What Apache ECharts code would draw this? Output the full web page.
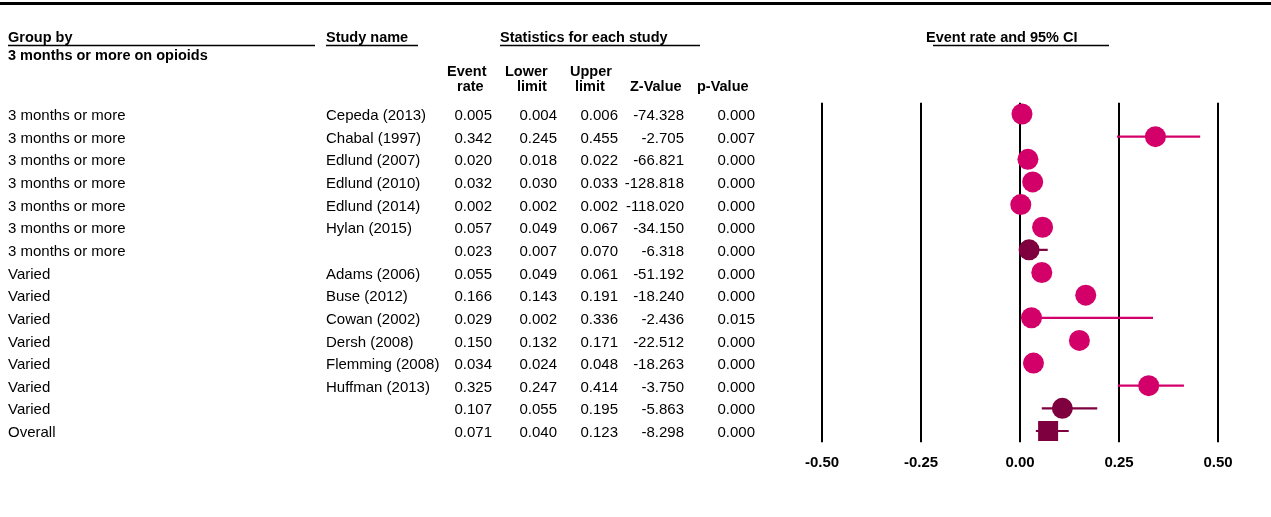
<!DOCTYPE html>
<html>
<head>
<meta charset="utf-8">
<script src="https://cdn.jsdelivr.net/npm/echarts@6/dist/echarts.min.js"></script>
<style>
  html, body { margin: 0; padding: 0; background: #fff; }
  #chart { width: 1271px; height: 517px; }
</style>
</head>
<body>
<div id="chart"></div>
<script>
// Forest plot: event rate with 95% CI, grouped by opioid duration
const groups = [
  '3 months or more', '3 months or more', '3 months or more', '3 months or more',
  '3 months or more', '3 months or more', '3 months or more',
  'Varied', 'Varied', 'Varied', 'Varied', 'Varied', 'Varied', 'Varied',
  'Overall'
];
const studies = [
  'Cepeda (2013)', 'Chabal (1997)', 'Edlund (2007)', 'Edlund (2010)',
  'Edlund (2014)', 'Hylan (2015)', '',
  'Adams (2006)', 'Buse (2012)', 'Cowan (2002)', 'Dersh (2008)',
  'Flemming (2008)', 'Huffman (2013)', '',
  ''
];
// 'study' = single study, 'subtotal' = group pooled, 'overall' = all pooled
const rowKind = [
  'study', 'study', 'study', 'study', 'study', 'study', 'subtotal',
  'study', 'study', 'study', 'study', 'study', 'study', 'subtotal',
  'overall'
];
const eventRate = [0.005, 0.342, 0.020, 0.032, 0.002, 0.057, 0.023,
                   0.055, 0.166, 0.029, 0.150, 0.034, 0.325, 0.107, 0.071];
const lowerLimit = [0.004, 0.245, 0.018, 0.030, 0.002, 0.049, 0.007,
                    0.049, 0.143, 0.002, 0.132, 0.024, 0.247, 0.055, 0.040];
const upperLimit = [0.006, 0.455, 0.022, 0.033, 0.002, 0.067, 0.070,
                    0.061, 0.191, 0.336, 0.171, 0.048, 0.414, 0.195, 0.123];
const zValue = [-74.328, -2.705, -66.821, -128.818, -118.020, -34.150, -6.318,
                -51.192, -18.240, -2.436, -22.512, -18.263, -3.750, -5.863, -8.298];
const pValue = [0.000, 0.007, 0.000, 0.000, 0.000, 0.000, 0.000,
                0.000, 0.000, 0.015, 0.000, 0.000, 0.000, 0.000, 0.000];
const axisTicks = [-0.5, 0.25];   // [min, interval]

const rowIdx = groups.map((_, i) => String(i));
const PINK = '#d4006a';
const DARK = '#7e003e';
const FONT = '"Liberation Sans", Arial, sans-serif';
const TXT = '15px ' + FONT;
const BOLD = 'bold 14.5px ' + FONT;

const kindColor = k => (k === 'study' ? PINK : DARK);

const chart = echarts.init(document.getElementById('chart'), null, { renderer: 'canvas' });

// column layout of the statistics table (pixel x on the table axis)
const cols = [
  { get: i => groups[i], x: 8, align: 'left' },
  { get: i => studies[i], x: 326, align: 'left' },
  { get: i => eventRate[i].toFixed(3), x: 492, align: 'right' },
  { get: i => lowerLimit[i].toFixed(3), x: 557, align: 'right' },
  { get: i => upperLimit[i].toFixed(3), x: 618, align: 'right' },
  { get: i => zValue[i].toFixed(3), x: 684, align: 'right' },
  { get: i => pValue[i].toFixed(3), x: 755, align: 'right' }
];

function txt(text, x, y, font, align) {
  return {
    type: 'text',
    style: {
      text: text, x: x, y: y, font: font, fill: '#000',
      align: align || 'left', textAlign: align || 'left',
      verticalAlign: 'middle', textVerticalAlign: 'middle'
    }
  };
}
function hline(x1, x2, y, w) {
  return { type: 'line', shape: { x1: x1, y1: y, x2: x2, y2: y },
           style: { stroke: '#000', lineWidth: w } };
}

const TOP = 102.7, HEIGHT = 339.6;
const ROW_TEXT_SHIFT = 2;   // table text sits slightly below the marker centre line

chart.setOption({
  animation: false,
  backgroundColor: '#fff',
  grid: [
    { left: 0, right: 0, top: TOP, height: HEIGHT },
    { left: 822, width: 396, top: TOP, height: HEIGHT }
  ],
  xAxis: [
    { gridIndex: 0, type: 'value', min: 0, max: 1271, show: false },
    {
      gridIndex: 1, type: 'value', min: axisTicks[0], max: -axisTicks[0],
      interval: axisTicks[1],
      axisLine: { show: false }, axisTick: { show: false },
      splitLine: { show: true, lineStyle: { color: '#000', width: 2 } },
      axisLabel: {
        margin: 13, color: '#000', fontFamily: FONT, fontWeight: 'bold', fontSize: 15,
        formatter: v => v.toFixed(2)
      }
    }
  ],
  yAxis: [
    { gridIndex: 0, type: 'category', data: rowIdx, inverse: true, show: false },
    { gridIndex: 1, type: 'category', data: rowIdx, inverse: true, show: false }
  ],
  graphic: [
    { type: 'rect', shape: { x: 0, y: 2, width: 1271, height: 3 }, style: { fill: '#000' } },
    txt('Group by', 8, 38, BOLD),
    hline(8, 315, 45.5, 1.5),
    txt('3 months or more on opioids', 8, 56, BOLD),
    txt('Study name', 326, 38, BOLD),
    hline(326, 418, 45.5, 1.5),
    txt('Statistics for each study', 500, 38, BOLD),
    hline(500, 700, 45.5, 1.5),
    txt('Event rate and 95% CI', 926, 38, BOLD),
    hline(933, 1109, 45.5, 1.5),
    txt('Event', 447, 72, BOLD),
    txt('rate', 457, 87, BOLD),
    txt('Lower', 505, 72, BOLD),
    txt('limit', 517, 87, BOLD),
    txt('Upper', 570, 72, BOLD),
    txt('limit', 575, 87, BOLD),
    txt('Z-Value', 630, 87, BOLD),
    txt('p-Value', 697, 87, BOLD)
  ],
  series: [
    {
      // statistics table, one row per category
      type: 'custom',
      xAxisIndex: 0, yAxisIndex: 0,
      silent: true,
      data: rowIdx.map((_, i) => [0, i]),
      renderItem: function (params, api) {
        const i = api.value(1);
        const y = api.coord([0, i])[1] + ROW_TEXT_SHIFT;
        return {
          type: 'group',
          children: cols.map(c => txt(c.get(i), api.coord([c.x, i])[0], y, TXT, c.align))
        };
      }
    },
    {
      // confidence interval whiskers
      type: 'custom',
      xAxisIndex: 1, yAxisIndex: 1,
      silent: true,
      data: rowIdx.map((_, i) => [lowerLimit[i], upperLimit[i], i]),
      renderItem: function (params, api) {
        const i = api.value(2);
        const a = api.coord([api.value(0), i]);
        const b = api.coord([api.value(1), i]);
        return {
          type: 'line',
          shape: { x1: a[0], y1: a[1], x2: b[0], y2: b[1] },
          style: { stroke: kindColor(rowKind[i]), lineWidth: 2.2 }
        };
      }
    },
    {
      // point estimates
      type: 'scatter',
      xAxisIndex: 1, yAxisIndex: 1,
      silent: true,
      data: rowIdx.map((_, i) => ({
        value: [eventRate[i], i],
        symbol: rowKind[i] === 'overall' ? 'rect' : 'circle',
        symbolSize: rowKind[i] === 'overall' ? 20 : 21,
        itemStyle: { color: kindColor(rowKind[i]), opacity: 1 }
      }))
    }
  ]
});
</script>
</body>
</html>
